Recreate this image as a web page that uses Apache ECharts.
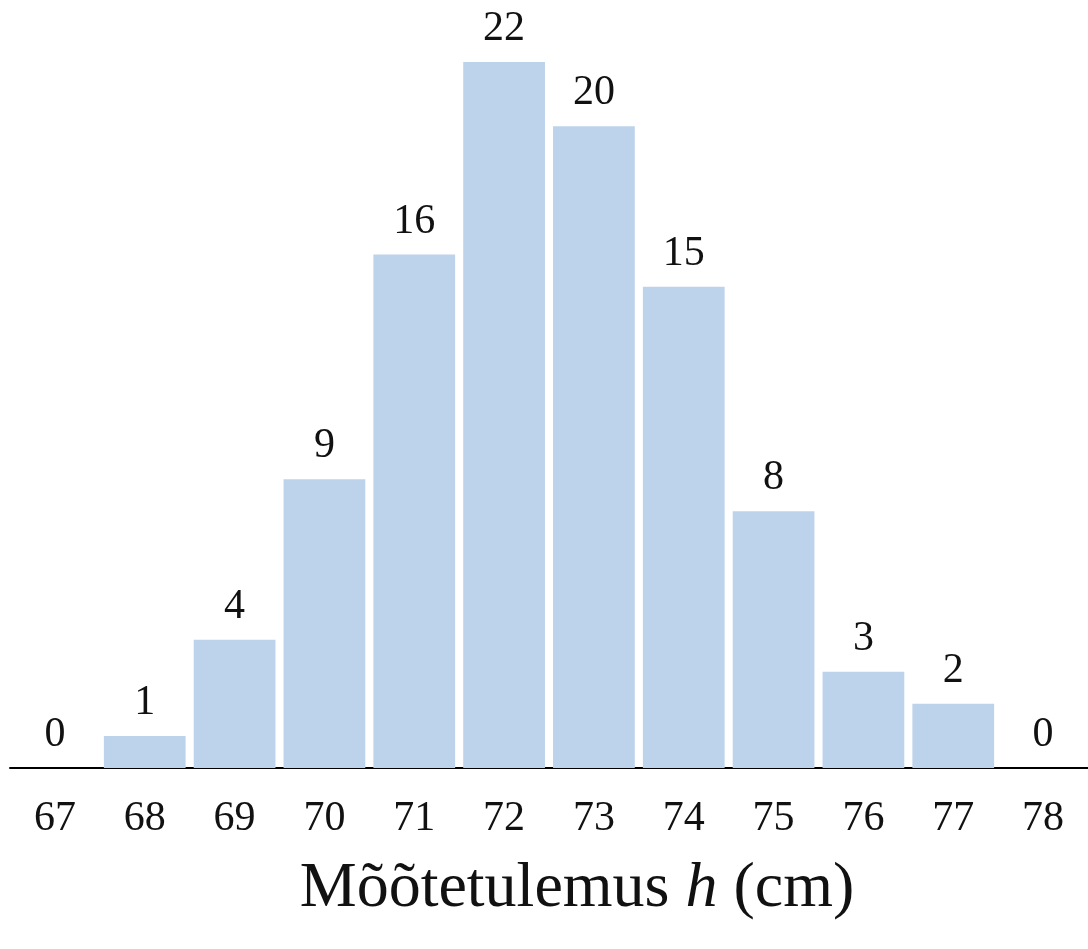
<!DOCTYPE html>
<html>
<head>
<meta charset="utf-8">
<script src="https://cdn.jsdelivr.net/npm/echarts@6/dist/echarts.min.js"></script>
<style>html,body{margin:0;padding:0;background:#fff;}#main{width:1088px;height:949px;}</style>
</head>
<body>
<div id="main"></div>
<script>
var categories = ['67', '68', '69', '70', '71', '72', '73', '74', '75', '76', '77', '78'];
var counts = [0, 1, 4, 9, 16, 22, 20, 15, 8, 3, 2, 0];

var chart = echarts.init(document.getElementById('main'));
var option = {
    animation: false,
    textStyle: {fontFamily: 'Liberation Serif'},
    title: {
        text: 'Mõõtetulemus {i|h} (cm)',
        left: 572,
        textAlign: 'center',
        top: 852,
        textStyle: {
            fontFamily: 'Liberation Serif',
            fontSize: 64,
            fontWeight: 'normal',
            color: '#111',
            rich: {
                i: {fontFamily: 'Liberation Serif', fontSize: 64, fontStyle: 'italic', color: '#111'}
            }
        }
    },
    grid: {left: 10, right: -12, top: 62, bottom: 181},
    xAxis: {
        type: 'category',
        data: categories,
        axisLine: {lineStyle: {color: '#000', width: 2}},
        axisTick: {show: false},
        axisLabel: {fontFamily: 'Liberation Serif', fontSize: 42, color: '#111', margin: 30}
    },
    yAxis: {
        type: 'value',
        min: 0,
        max: 22,
        show: false
    },
    series: [{
        type: 'bar',
        data: counts,
        barCategoryGap: '9%',
        itemStyle: {color: '#bdd3ec'},
        label: {
            show: true,
            position: 'top',
            distance: 12,
            fontFamily: 'Liberation Serif',
            fontSize: 42,
            color: '#111'
        }
    }]
};
chart.setOption(option);
</script>
</body>
</html>
